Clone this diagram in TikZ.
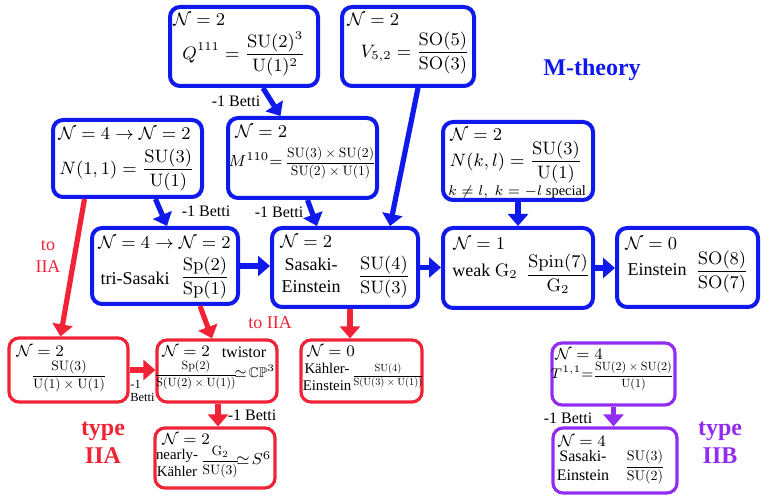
\documentclass[tikz,border=0pt]{standalone}
\usepackage{amsmath, amssymb}
\usepackage{graphicx}
\usepackage[no-math]{fontspec}
\setmainfont{Liberation Serif}
\usepackage{xcolor}
\usepackage{tikz}
\usetikzlibrary{arrows.meta, fit}
\definecolor{mblue}{RGB}{15,25,235}
\definecolor{iiared}{RGB}{240,35,55}
\definecolor{iibpurple}{RGB}{145,45,240}
\tikzset{
  cosetbox/.style={draw, rounded corners=5pt, fill=white, inner sep=0pt},
  mbox/.style={cosetbox, draw=mblue, line width=2pt},
  iiabox/.style={cosetbox, draw=iiared, line width=1.6pt},
  iibbox/.style={cosetbox, draw=iibpurple, line width=1.6pt},
  nlabel/.style={anchor=north west, inner sep=0pt, font=\small},
  snlabel/.style={nlabel, font=\footnotesize},
  coset/.style={inner sep=0pt, font=\small},
  words/.style={inner sep=0pt, align=center, font=\small},
  swords/.style={inner sep=0pt, align=center, font=\fontsize{7.4}{8.5}\selectfont},
  betti/.style={inner sep=0pt, font=\footnotesize},
  sector/.style={inner sep=0pt, align=center, font=\large\bfseries},
  flowarrow/.style={-{Triangle[length=6pt, width=10pt]}, line width=2.6pt}
}
% display fraction shrunk to a given factor
\newcommand{\sfrac}[3]{\scalebox{#1}{\normalsize$\displaystyle\frac{#2}{#3}$}}

\begin{document}
\begin{tikzpicture}[x=0.5pt, y=-0.5pt,
  marrow/.style={flowarrow, mblue},
  aarrow/.style={flowarrow, iiared},
  barrow/.style={flowarrow, iibpurple},
]
\useasboundingbox (0,0) rectangle (764,501);

% M-theory boxes
\node[mbox, fit={(170,7) (318,86)}]    (Q111) {};
\node[mbox, fit={(342,7) (474,86)}]    (V52)  {};
\node[mbox, fit={(53,120) (202,197)}]  (N11)  {};
\node[mbox, fit={(228,118) (377,198)}] (M110) {};
\node[mbox, fit={(443,122) (593,200)}] (Nkl)  {};
\node[mbox, fit={(92,228) (238,304)}]  (tri)  {};
\node[mbox, fit={(272,228) (418,307)}] (SE)   {};
\node[mbox, fit={(443,228) (593,308)}] (G2)   {};
\node[mbox, fit={(617,228) (758,307)}] (E0)   {};

% type IIA boxes
\node[iiabox, fit={(9,338) (128,402)}]    (IIAone)  {};
\node[iiabox, fit={(157,340) (277,402)}]  (twistor) {};
\node[iiabox, fit={(155,428) (275,488)}]  (nK)      {};
\node[iiabox, fit={(301,340) (422,402)}]  (KE)      {};

% type IIB boxes
\node[iibbox, fit={(552,343) (675,405)}] (T11) {};
\node[iibbox, fit={(553,428) (677,493)}] (SEfour) {};

% Box contents
\node[nlabel] (Q111n) at (173,13) {$\mathcal{N}=2$};
\node[coset] (Q111f) at (244,54) {$\displaystyle Q^{111}=\frac{\mathrm{SU}(2)^3}{\mathrm{U}(1)^2}$};

\node[nlabel] (V52n) at (347,13) {$\mathcal{N}=2$};
\node[coset] (V52f) at (415,53) {$\displaystyle V_{5,2}=\frac{\mathrm{SO}(5)}{\mathrm{SO}(3)}$};

\node[nlabel] (N11n) at (58,127) {$\mathcal{N}=4\rightarrow\mathcal{N}=2$};
\node[coset] (N11f) at (127,170) {$\displaystyle N(1,1)=\frac{\mathrm{SU}(3)}{\mathrm{U}(1)}$};

\node[nlabel] (M110n) at (235,125) {$\mathcal{N}=2$};
\node[coset] (M110f) at (302,163) {{\footnotesize$M^{110}{=}$}\,\sfrac{0.68}{\mathrm{SU}(3)\times\mathrm{SU}(2)}{\mathrm{SU}(2)\times\mathrm{U}(1)}};

\node[nlabel] (Nkln) at (450,128) {$\mathcal{N}=2$};
\node[coset] (Nklf) at (516,162) {$\displaystyle N(k,l)=\frac{\mathrm{SU}(3)}{\mathrm{U}(1)}$};
\node[betti, font=\fontsize{7.2}{8}\selectfont] (Nkls) at (517,192) {$k\neq l,\ k=-l$ special};

\node[nlabel] (trin) at (98,236) {$\mathcal{N}=4\rightarrow\mathcal{N}=2$};
\node[words] (triw) at (135,278) {tri-Sasaki};
\node[coset] (trif) at (205,278) {$\displaystyle\frac{\mathrm{Sp}(2)}{\mathrm{Sp}(1)}$};

\node[nlabel] (SEn) at (280,235) {$\mathcal{N}=2$};
\node[words] (SEw) at (311,275) {Sasaki-\\Einstein};
\node[coset] (SEf) at (384,277) {$\displaystyle\frac{\mathrm{SU}(4)}{\mathrm{SU}(3)}$};

\node[nlabel] (G2n) at (453,237) {$\mathcal{N}=1$};
\node[words] (G2w) at (485,271) {weak $\mathrm{G}_2$};
\node[coset] (G2f) at (558,274) {$\displaystyle\frac{\mathrm{Spin}(7)}{\mathrm{G}_2}$};

\node[nlabel] (E0n) at (625,237) {$\mathcal{N}=0$};
\node[words] (E0w) at (657,270) {Einstein};
\node[coset] (E0f) at (722,272) {$\displaystyle\frac{\mathrm{SO}(8)}{\mathrm{SO}(7)}$};

\node[snlabel] (IIAonen) at (16,345) {$\mathcal{N}=2$};
\node[coset] (IIAonef) at (69,376) {\sfrac{0.68}{\mathrm{SU}(3)}{\mathrm{U}(1)\times\mathrm{U}(1)}};

\node[snlabel] (twistorn) at (162,345) {$\mathcal{N}=2$};
\node[words, font=\footnotesize] (twistorw) at (244,352) {twistor};
\node[coset] (twistorf) at (215,375) {\sfrac{0.6}{\mathrm{Sp}(2)}{\mathrm{S}(\mathrm{U}(2)\times\mathrm{U}(1))}{\scriptsize$\!\simeq\!\mathbb{CP}^3$}};

\node[snlabel] (nKn) at (162,433) {$\mathcal{N}=2$};
\node[swords] (nKw) at (177,463) {nearly-\\K\"ahler};
\node[coset] (nKf) at (236,462) {\sfrac{0.68}{\mathrm{G}_2}{\mathrm{SU}(3)}{\footnotesize$\!\simeq\! S^6$}};

\node[snlabel] (KEn) at (307,345) {$\mathcal{N}=0$};
\node[swords] (KEw) at (327,377) {K\"ahler-\\Einstein};
\node[coset] (KEf) at (388,376) {\sfrac{0.52}{\mathrm{SU}(4)}{\mathrm{S}(\mathrm{U}(3)\times\mathrm{U}(1))}};

\node[snlabel] (T11n) at (555,348) {$\mathcal{N}=4$};
\node[coset] (T11f) at (612,376) {{\scriptsize$T^{1,1}{=}$}\sfrac{0.6}{\mathrm{SU}(2)\times\mathrm{SU}(2)}{\mathrm{U}(1)}};

\node[snlabel] (SEfourn) at (558,435) {$\mathcal{N}=4$};
\node[words, font=\footnotesize] (SEfourw) at (583,466) {Sasaki-\\Einstein};
\node[coset] (SEfourf) at (645,467) {\sfrac{0.7}{\mathrm{SU}(3)}{\mathrm{SU}(2)}};

% Arrows
\draw[marrow] ([shift={(19,0)}]Q111.south) -- ([shift={(-22,0)}]M110.north);
\draw[marrow] ([shift={(10,0)}]V52.south) -- ([shift={(45,0)}]SE.north);
\draw[marrow] ([shift={(28,0)}]N11.south) -- ([shift={(2,0)}]tri.north);
\draw[marrow] ([shift={(5,0)}]M110.south) -- ([shift={(-28,0)}]SE.north);
\draw[marrow] (Nkl.south) -- (G2.north);
\draw[marrow] (tri.east) -- (tri.east -| SE.west);
\draw[marrow] (SE.east) -- (SE.east -| G2.west);
\draw[marrow] (G2.east) -- (G2.east -| E0.west);

\draw[aarrow] ([shift={(-43,0)}]N11.south) -- ([shift={(-8,0)}]IIAone.north);
\draw[aarrow] ([shift={(35,0)}]tri.south) -- ([shift={(-5,0)}]twistor.north);
\draw[aarrow] ([shift={(5,0)}]SE.south) -- ([shift={(-11.5,0)}]KE.north);
\draw[aarrow] (IIAone.east) -- (IIAone.east -| twistor.west);
\draw[aarrow] ([shift={(1,0)}]twistor.south) -- ([shift={(3,0)}]nK.north);

\draw[barrow] (T11.south) -- (T11.south |- SEfour.north);

% Annotations
\node[betti] (betti1) at (236,101) {-1 Betti};
\node[betti] (betti2) at (206,211) {-1 Betti};
\node[betti] (betti3) at (279,212) {-1 Betti};
\node[betti, align=left, anchor=west, font=\fontsize{6.2}{6.6}\selectfont] (betti4) at (130,391) {-1\\Betti};
\node[betti] (betti5) at (252,415) {-1 Betti};
\node[betti] (betti6) at (568,418) {-1 Betti};

\node[words, text=iiared] (toIIAone) at (48,256) {to\\IIA};
\node[words, text=iiared] (toIIAtwo) at (270,323) {to IIA};

\node[sector, text=mblue] (mtheory) at (592,70) {M-theory};
\node[sector, text=iiared] (typeIIA) at (103,443) {type\\IIA};
\node[sector, text=iibpurple] (typeIIB) at (720,443) {type\\IIB};

\end{tikzpicture}
\end{document}
